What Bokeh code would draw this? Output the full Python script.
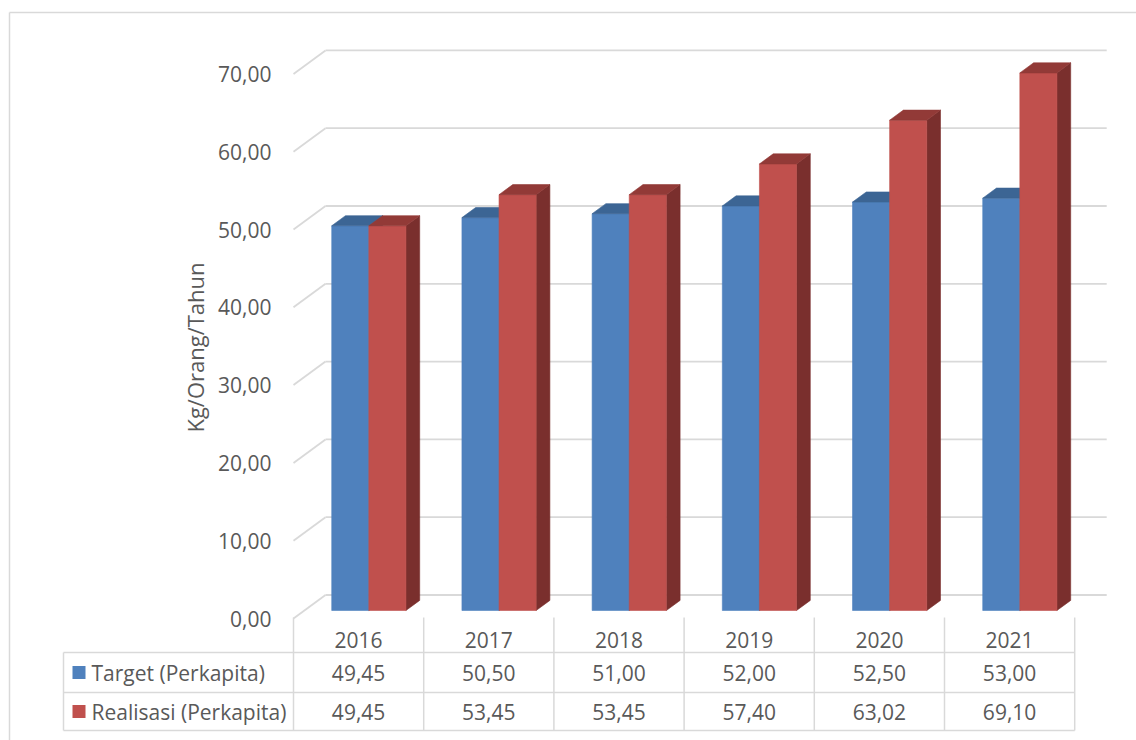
import math
from bokeh.plotting import figure
from bokeh.models import Range1d
from bokeh.core.properties import value
from bokeh.embed import file_html
from bokeh.resources import INLINE

# ---- data ----
years = ["2016", "2017", "2018", "2019", "2020", "2021"]
target = [49.45, 50.50, 51.00, 52.00, 52.50, 53.00]
realisasi = [49.45, 53.45, 53.45, 57.40, 63.02, 69.10]
series_names = ["Target (Perkapita)", "Realisasi (Perkapita)"]
y_ticks = [0, 10, 20, 30, 40, 50, 60, 70]
axis_title = "Kg/Orang/Tahun"

# ---- layout (pixels) ----
W, H = 1136, 740
X0 = 293.0      # px of category-unit 0 on front plane
CW = 130.2      # px per category
Y0 = 618.0      # px of value 0 on front plane
VS = 7.78       # px per value unit
DEPTH_PX = (32.0, -23.5)
DU = DEPTH_PX[0] / CW
DV = -DEPTH_PX[1] / VS

def ux(px):
    return (px - X0) / CW

def vy(py):
    return (Y0 - py) / VS

def proj(u, v, d):
    return u + d * DU, v + d * DV

FONT = value("Open Sans")
TXT = "#595959"
GRID = "#d9d9d9"
FS = "21px"

p = figure(width=W, height=H, output_backend="svg", toolbar_location=None,
           x_range=Range1d(ux(0), ux(W)), y_range=Range1d(vy(H), vy(0)),
           min_border=0, outline_line_color=None)
p.axis.visible = False
p.grid.visible = False
p.background_fill_color = "white"
p.border_fill_color = "white"

# outer border
p.multi_line(xs=[[ux(9), ux(9)], [ux(9), ux(W + 5)]],
             ys=[[vy(12), vy(H + 5)], [vy(12), vy(12)]],
             line_color=GRID, line_width=1.5)

# back wall gridlines and left wall diagonals
n = len(years)
gx, gy = [], []
for t in y_ticks:
    a = proj(0, t, 1)
    b = proj(n, t, 1)
    gx.append([a[0], b[0]]); gy.append([a[1], b[1]])
    c = proj(0, t, 0)
    gx.append([c[0], a[0]]); gy.append([c[1], a[1]])
p.multi_line(xs=gx, ys=gy, line_color=GRID, line_width=1.8)

# y tick labels
p.text(x=[ux(271)] * len(y_ticks), y=y_ticks,
       text=[f"{t:.2f}".replace(".", ",") for t in y_ticks],
       text_align="right", text_baseline="middle", text_font=FONT,
       text_font_size=FS, text_color=TXT)

# axis title
p.text(x=[ux(194)], y=[vy(347)], text=[axis_title], angle=math.pi / 2,
       text_align="center", text_baseline="middle", text_font=FONT,
       text_font_size="22px", text_color=TXT)

# 3D bars
D0, D1 = 0.34, 0.77
LEFT, BW = 0.21, 0.285
colors = [("#4f81bd", "#3c6594", "#2f4f75"), ("#c0504d", "#923a37", "#7a2f2d")]
fx, fy, fc = [], [], []
for i in range(n):
    for s, vals in enumerate([target, realisasi]):
        h = vals[i]
        uL = i + LEFT + s * BW
        uR = uL + BW
        front, top, side = colors[s]
        # side
        pts = [proj(uR, 0, D0), proj(uR, h, D0), proj(uR, h, D1), proj(uR, 0, D1)]
        fx.append([q[0] for q in pts]); fy.append([q[1] for q in pts]); fc.append(side)
        # front
        pts = [proj(uL, 0, D0), proj(uR, 0, D0), proj(uR, h, D0), proj(uL, h, D0)]
        fx.append([q[0] for q in pts]); fy.append([q[1] for q in pts]); fc.append(front)
        # top
        pts = [proj(uL, h, D0), proj(uR, h, D0), proj(uR, h, D1), proj(uL, h, D1)]
        fx.append([q[0] for q in pts]); fy.append([q[1] for q in pts]); fc.append(top)
p.patches(xs=fx, ys=fy, fill_color=fc, line_color=fc, line_width=0.6)

# data table
row_tops = [652, 692, 730]
tx, ty = [], []
for r in row_tops:
    tx.append([ux(63), n]); ty.append([vy(r), vy(r)])
tx.append([ux(63), ux(63)]); ty.append([vy(652), vy(730)])
for i in range(n + 1):
    tx.append([i, i]); ty.append([vy(617), vy(730)])
p.multi_line(xs=tx, ys=ty, line_color=GRID, line_width=1.5)

centers = [i + 0.5 for i in range(n)]
p.text(x=centers, y=[vy(639)] * n, text=years, text_align="center",
       text_baseline="middle", text_font=FONT, text_font_size=FS, text_color=TXT)
for vals, py in [(target, 672), (realisasi, 711)]:
    p.text(x=centers, y=[vy(py)] * n,
           text=[f"{v:.2f}".replace(".", ",") for v in vals],
           text_align="center", text_baseline="middle", text_font=FONT,
           text_font_size=FS, text_color=TXT)

# legend keys in table
for s, py in enumerate([672, 711]):
    p.quad(left=[ux(72)], right=[ux(85)], top=[vy(py - 6.5)], bottom=[vy(py + 6.5)],
           fill_color=colors[s][0], line_color=None)
p.text(x=[ux(91), ux(91)], y=[vy(672), vy(711)], text=series_names,
       text_align="left", text_baseline="middle", text_font=FONT,
       text_font_size=FS, text_color=TXT)

open("out.html", "w").write(file_html(p, INLINE))
